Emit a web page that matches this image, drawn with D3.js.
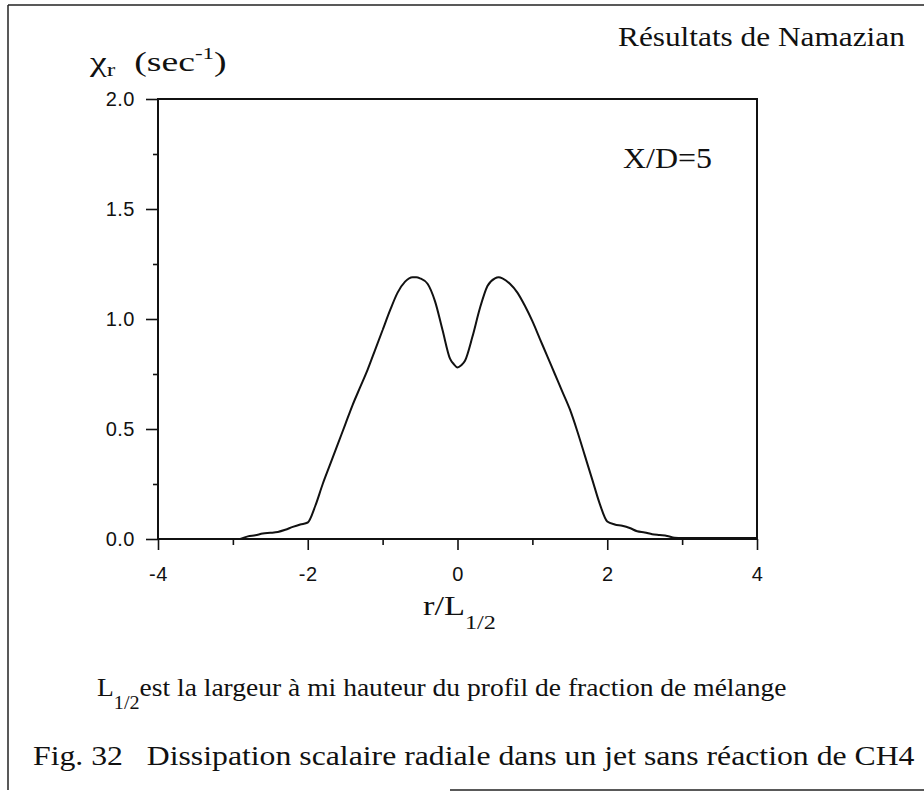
<!DOCTYPE html>
<html>
<head>
<meta charset="utf-8">
<script src="https://cdn.jsdelivr.net/npm/d3@7"></script>
<style>
  html, body { margin: 0; padding: 0; background: #fff; }
  svg { display: block; }
</style>
</head>
<body>
<script>
// ---------------- data ----------------
const rValues = [-2.9, -2.8, -2.7, -2.6, -2.5, -2.4, -2.3, -2.2, -2.1, -2.0,
  -1.9, -1.8, -1.7, -1.6, -1.5, -1.4, -1.3, -1.2, -1.1, -1.0,
  -0.9, -0.8, -0.7, -0.6, -0.55, -0.5, -0.4, -0.3, -0.2, -0.1, -0.05, 0.0,
  0.05, 0.1, 0.2, 0.3, 0.4, 0.5, 0.55, 0.6, 0.7, 0.8, 0.9, 1.0,
  1.1, 1.2, 1.3, 1.4, 1.5, 1.6, 1.7, 1.8, 1.9, 2.0,
  2.1, 2.2, 2.3, 2.4, 2.5, 2.6, 2.7, 2.8, 2.9, 3.0, 3.5, 4.0];
const chiValues = [0.0, 0.012, 0.017, 0.025, 0.028, 0.032, 0.042, 0.055, 0.066, 0.075,
  0.15, 0.25, 0.34, 0.43, 0.52, 0.61, 0.69, 0.77, 0.86, 0.95,
  1.04, 1.12, 1.17, 1.19, 1.19, 1.185, 1.16, 1.08, 0.95, 0.82, 0.795, 0.78,
  0.79, 0.81, 0.92, 1.05, 1.15, 1.185, 1.19, 1.185, 1.16, 1.12, 1.06, 0.99,
  0.91, 0.83, 0.75, 0.67, 0.59, 0.49, 0.38, 0.27, 0.16, 0.08,
  0.066, 0.06, 0.05, 0.035, 0.03, 0.022, 0.018, 0.014, 0.006, 0.005, 0.005, 0.005];

const yMajorTicks = [0.0, 0.5, 1.0, 1.5, 2.0];
const yMinorTicks = [0.25, 0.75, 1.25, 1.75];
const xMajorTicks = [-4, -2, 0, 2, 4];
const xMinorTicks = [-3, -1, 1, 3];

const titleText = "Résultats de Namazian";
const yLabelMain = "χ";
const yLabelSub = "r";
const yLabelUnit = "(sec";
const yLabelExp = "-1";
const annotText = "X/D=5";
const xLabelMain = "r/L";
const xLabelSub = "1/2";
const noteSub = "1/2";
const noteText = "est la largeur à mi hauteur du profil de fraction de mélange";
const captionText = "Fig. 32\u00a0\u00a0 Dissipation scalaire radiale dans un jet sans réaction de CH4";

// ---------------- layout ----------------
const W = 924, H = 802;
const serif = "'Liberation Serif', 'Times New Roman', serif";
const sans = "'Liberation Sans', Arial, sans-serif";
const ink = "#111";

const svg = d3.select("body").append("svg")
  .attr("width", W).attr("height", H)
  .style("font-family", serif);

svg.append("rect").attr("width", W).attr("height", H).attr("fill", "#fff");

// page frame (scanned figure border)
const frame = svg.append("g").attr("stroke", "#222").attr("stroke-width", 1.5).attr("fill", "none");
frame.append("line").attr("x1", 8).attr("y1", 5).attr("x2", 924).attr("y2", 5);
frame.append("line").attr("x1", 8).attr("y1", 5).attr("x2", 8).attr("y2", 790);
frame.append("line").attr("x1", 450).attr("y1", 790).attr("x2", 924).attr("y2", 790);

const x = d3.scaleLinear().domain([-4, 4]).range([158, 757]);
const y = d3.scaleLinear().domain([0, 2]).range([539, 99]);

// plot box
svg.append("rect")
  .attr("x", x(-4)).attr("y", y(2))
  .attr("width", x(4) - x(-4)).attr("height", y(0) - y(2))
  .attr("fill", "none").attr("stroke", ink).attr("stroke-width", 2);

function styleAxis(g) {
  g.select(".domain").remove();
  g.selectAll(".tick line").attr("stroke", ink).attr("stroke-width", 1.6);
  g.selectAll(".tick text").attr("fill", ink)
    .style("font-family", sans).style("font-size", "20px").style("letter-spacing", "0.5px");
}

// y axis
svg.append("g").attr("transform", `translate(${x(-4)},0)`)
  .call(d3.axisLeft(y).tickValues(yMajorTicks).tickFormat(d3.format(".1f")).tickSize(12).tickPadding(11))
  .call(styleAxis);
svg.append("g").attr("transform", `translate(${x(-4)},0)`)
  .call(d3.axisLeft(y).tickValues(yMinorTicks).tickFormat("").tickSize(5))
  .call(styleAxis);

// x axis
const gx = svg.append("g").attr("transform", `translate(0,${y(0)})`)
  .call(d3.axisBottom(x).tickValues(xMajorTicks).tickFormat(d => String(d)).tickSize(11))
  .call(styleAxis);
gx.selectAll(".tick text").attr("y", 42).attr("dy", null);
svg.append("g").attr("transform", `translate(0,${y(0)})`)
  .call(d3.axisBottom(x).tickValues(xMinorTicks).tickFormat("").tickSize(6))
  .call(styleAxis);

// curve
const pts = rValues.map((r, i) => [r, chiValues[i]]);
svg.append("path")
  .datum(pts)
  .attr("fill", "none").attr("stroke", ink).attr("stroke-width", 2)
  .attr("stroke-linejoin", "round")
  .attr("d", d3.line().x(d => x(d[0])).y(d => y(d[1])).curve(d3.curveMonotoneX));

// helper: place text starting at x0 with baseline y0, horizontally fitted to width w (if given)
function fitText(x0, y0, size, build, targetW, sxGiven) {
  const g = svg.append("g");
  const t = g.append("text").attr("x", 0).attr("y", 0)
    .attr("fill", ink).style("font-size", size + "px").style("font-family", serif)
    .attr("xml:space", "preserve");
  build(t);
  const bw = t.node().getBBox().width;
  const sx = sxGiven != null ? sxGiven : (targetW ? targetW / bw : 1);
  g.attr("transform", `translate(${x0},${y0}) scale(${sx},1)`);
  return sx;
}

// title
fitText(618, 46, 28, t => t.text(titleText), 905 - 618);

// y label: χr (sec-1)
fitText(90, 71, 28, t => {
  t.append("tspan").text(yLabelMain);
  t.append("tspan").attr("dy", 5).style("font-size", "19px").text(yLabelSub);
  t.append("tspan").attr("dy", -5).text("\u00a0\u00a0" + yLabelUnit);
  t.append("tspan").attr("dy", -12).style("font-size", "17px").text(yLabelExp);
  t.append("tspan").attr("dy", 12).text(")");
}, 228 - 90);

// annotation
fitText(623, 168, 30, t => t.text(annotText), 712 - 623);

// x label r/L1/2
fitText(423, 615, 27, t => {
  t.append("tspan").text(xLabelMain);
  t.append("tspan").attr("dy", 14).style("font-size", "19px").text(xLabelSub);
}, 496 - 423);

// caption
fitText(33, 765, 28, t => t.text(captionText), 915 - 33);
// note line
fitText(97, 696, 26, t => {
  t.append("tspan").text("L");
  t.append("tspan").attr("dy", 13).style("font-size", "19px").text(noteSub);
  t.append("tspan").attr("dy", -13).text(noteText);
}, 787 - 97);
</script>
</body>
</html>
